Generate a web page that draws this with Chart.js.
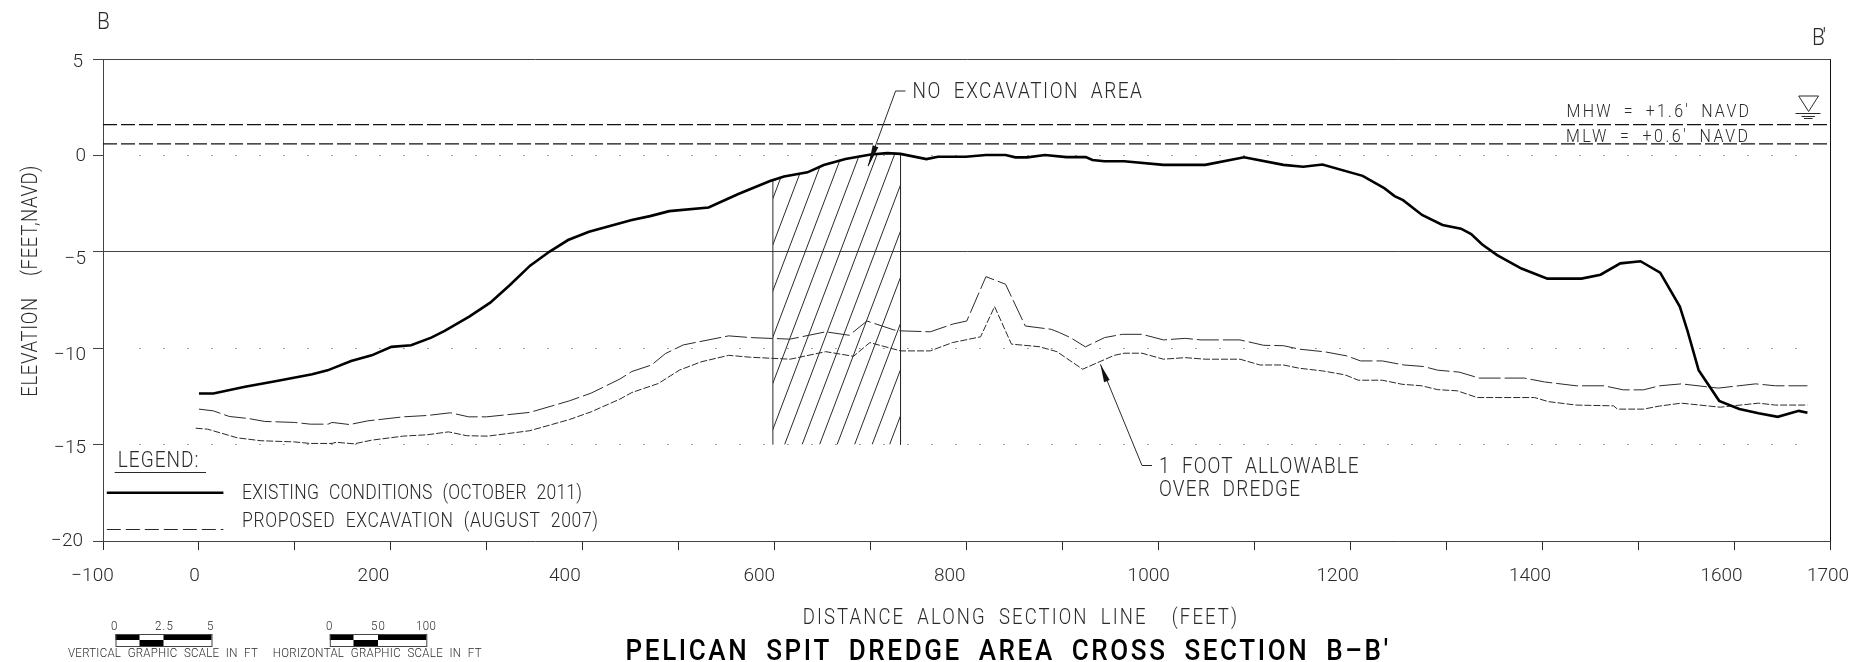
<!DOCTYPE html>
<html><head><meta charset="utf-8">
<style>html,body{margin:0;padding:0;background:#fff;overflow:hidden}canvas{display:block}</style>
<script src="https://cdn.jsdelivr.net/npm/chart.js@4/dist/chart.umd.min.js"></script>
</head><body>
<canvas id="c" width="1861" height="662"></canvas>
<script>
const existingX=[0,15,48,81,118,134,158.5,180,200.5,221,242,256,281.6,303.5,324,345,365,384.6,406.4,438.6,451,470,490,531,562,595,609.6,634,651,673.6,700,717,731,758,770,799,820,840.4,850.7,863,881.5,904,924,931,943.5,964,1005,1048.5,1089,1130,1150.5,1170.6,1212.5,1235,1245.8,1254.6,1274.4,1295.7,1315,1325.6,1336.8,1352.6,1378,1405,1440.5,1460.4,1481,1502,1522.5,1543,1551,1562.6,1584,1605,1625,1645,1667,1676];
const existingY=[-12.35,-12.35,-12,-11.7,-11.35,-11.15,-10.66,-10.37,-9.93,-9.85,-9.45,-9.1,-8.36,-7.64,-6.72,-5.72,-5,-4.39,-3.96,-3.52,-3.35,-3.15,-2.89,-2.7,-2,-1.33,-1.09,-0.88,-0.5,-0.19,0.05,0.12,0.08,-0.19,-0.07,-0.07,0.02,0.02,-0.1,-0.1,0.02,-0.09,-0.09,-0.24,-0.3,-0.3,-0.49,-0.49,-0.1,-0.49,-0.59,-0.47,-1.06,-1.7,-2.11,-2.32,-3.09,-3.61,-3.8,-4.08,-4.61,-5.17,-5.87,-6.39,-6.39,-6.19,-5.6,-5.49,-6.08,-7.84,-9.1,-11.14,-12.73,-13.15,-13.37,-13.56,-13.25,-13.35];
const proposedX=[0,15,31.5,52,68.6,99.6,116,134.6,138.6,157,175.8,212.8,237.8,262,281,299.6,344.7,386,408.6,438.6,451,471.6,486,504.6,552,574.7,616,653,677.6,696,724,731,762,786,800,820,840.4,861,888,896.6,908,923.6,943.6,962,982.6,1005,1027.6,1044,1084.7,1109.4,1130,1146.6,1173.4,1196,1210.4,1233,1255.5,1276,1290.7,1313,1334,1381,1402,1435,1464,1484,1505,1522,1544.6,1583,1622,1642.5,1676];
const proposedY=[-13.16,-13.25,-13.54,-13.65,-13.8,-13.85,-13.94,-13.94,-13.85,-13.96,-13.77,-13.56,-13.49,-13.35,-13.56,-13.56,-13.33,-12.73,-12.33,-11.6,-11.21,-10.87,-10.28,-9.83,-9.36,-9.45,-9.53,-9.15,-9.33,-8.59,-9.05,-9.1,-9.15,-8.74,-8.59,-6.29,-6.68,-8.85,-9.02,-9.19,-9.45,-9.93,-9.45,-9.28,-9.28,-9.57,-9.49,-9.57,-9.57,-9.85,-9.87,-10.05,-10.19,-10.4,-10.66,-10.66,-10.87,-10.95,-11.14,-11.24,-11.55,-11.55,-11.75,-11.95,-11.95,-12.16,-12.16,-11.95,-11.85,-12.07,-11.85,-11.95,-11.95];
const overDredgeX=[-3.4,9,40,64.6,99.6,116,138.6,143,161.5,180,212.8,237.8,260,279,301,344.7,386,408.6,438.6,451,478.7,500.5,523,552,574.7,616,653,682,699,731,762,785,814.4,829,846.6,875.4,894,920.7,953.7,964,982.6,1005,1027.6,1048.5,1084.7,1105.4,1130,1146.6,1171,1194,1208,1233,1253.5,1274,1290.7,1311,1332,1391.6,1406,1435,1474,1478,1505,1522,1544.6,1585,1625,1642.5,1676];
const overDredgeY=[-14.15,-14.2,-14.65,-14.8,-14.86,-14.94,-14.94,-14.88,-14.96,-14.77,-14.56,-14.49,-14.34,-14.54,-14.56,-14.28,-13.7,-13.3,-12.64,-12.3,-11.83,-11.14,-10.71,-10.37,-10.47,-10.57,-10.18,-10.42,-9.71,-10.14,-10.14,-9.71,-9.41,-7.84,-9.79,-9.92,-10.18,-11.09,-10.37,-10.26,-10.26,-10.57,-10.49,-10.57,-10.57,-10.87,-10.87,-11.04,-11.18,-11.38,-11.66,-11.66,-11.87,-11.95,-12.15,-12.21,-12.56,-12.56,-12.77,-12.95,-12.99,-13.16,-13.16,-13,-12.85,-13.06,-12.85,-12.95,-12.95];
const noExcavationX=[598,598,609.6,634,651,673.6,700,717,731,731];
const noExcavationY=[-15,-1.33,-1.09,-0.88,-0.5,-0.19,0.05,0.12,0.08,-15];
const tideX=[-100,1700];
const mhwY=[1.6,1.6];
const mlwY=[0.6,0.6];
const xTickLabels=[-100,0,200,400,600,800,1000,1200,1400,1600,1700];
const yTickLabels=[5,0,-5,-10,-15,-20];
const dottedLevels=[0,-10,-15];

const INK='#2a2a2a', FONT='Roboto', STRETCH=1.16;
const xLabelShift={'-100':-10.5,'0':-4.5,'200':-17.5,'400':-18,'600':-15.5,'800':-17,'1000':-10,'1200':-13,'1400':-12.5,'1600':-13,'1700':-2.5};
const yLabelShift={'5':[-3,3.7],'0':[0,0.7],'-5':[0,7.6],'-10':[0,6.7],'-15':[0,4],'-20':[-3,0.7]};
const dotPattern=[];for(let i=0;i<69;i++)dotPattern.push(1,23);dotPattern.push(1,2000);

const zip=(xs,ys)=>xs.map((x,i)=>({x,y:ys[i]}));
const line=(ctx,pts,w=1,col=INK,dash=[])=>{ctx.save();ctx.beginPath();ctx.setLineDash(dash);ctx.lineWidth=w;ctx.strokeStyle=col;
  pts.forEach((p,i)=>i?ctx.lineTo(p[0],p[1]):ctx.moveTo(p[0],p[1]));ctx.stroke();ctx.restore();};
// text stretched between two x positions, tall and wide-spaced like the CAD lettering
const text=(ctx,s,x0,x1,y,size,weight='300',col=INK)=>{ctx.save();ctx.font=`${weight} ${size}px ${FONT}`;ctx.fillStyle=col;ctx.textBaseline='middle';ctx.textAlign='left';
  ctx.letterSpacing='0px';ctx.wordSpacing=(size*0.3)+'px';const w=ctx.measureText(s).width;const ls=(x1-x0-w)/Math.max(1,s.length-1);ctx.letterSpacing=ls+'px';
  ctx.translate(x0,y);ctx.scale(1,STRETCH);ctx.fillText(s,0,0);ctx.restore();};
const arrow=(ctx,tx,ty,bx,by,len,half)=>{const d=Math.hypot(bx-tx,by-ty),ux=(bx-tx)/d,uy=(by-ty)/d,cx=tx+ux*len,cy=ty+uy*len;
  ctx.save();ctx.fillStyle='#111';ctx.beginPath();ctx.moveTo(tx,ty);ctx.lineTo(cx-uy*half,cy+ux*half);ctx.lineTo(cx+uy*half,cy-ux*half);ctx.closePath();ctx.fill();ctx.restore();};
const bar=(ctx,x0,x1,x2,x3,y0,y1,y2)=>{ctx.save();ctx.fillStyle='#000';
  ctx.fillRect(x0,y0,x1-x0,y1-y0);ctx.fillRect(x2,y0,x3-x2,y1-y0);ctx.fillRect(x1,y1,x2-x1,y2-y1);
  ctx.strokeStyle='#444';ctx.lineWidth=1;ctx.strokeRect(x0+.5,y0+.5,x3-x0,y2-y0);ctx.restore();};

const tune={id:'tune',beforeDraw(chart){
  chart.scales.x.getLabelItems().forEach(it=>{const d=xLabelShift[it.label.replace('\u2212','-')];if(d!==undefined)it.options.translation[0]+=d;});
  chart.scales.y.getLabelItems().forEach(it=>{const d=yLabelShift[it.label.replace('\u2212','-')];if(d){it.options.translation[0]+=d[0];it.options.translation[1]+=d[1];}});
}};
const hatch={id:'hatch',beforeDatasetsDraw(chart){
  const ctx=chart.ctx,pts=chart.getDatasetMeta(3).data,ys=chart.scales.y,xs=chart.scales.x;
  ctx.save();ctx.beginPath();pts.forEach((p,i)=>i?ctx.lineTo(p.x,p.y):ctx.moveTo(p.x,p.y));ctx.closePath();ctx.clip();
  const base=ys.getPixelForValue(-15),top=ys.getPixelForValue(0.2),step=17.5,rise=0.379;
  ctx.strokeStyle=INK;ctx.lineWidth=1;ctx.beginPath();
  for(let x=767.1-step*6;x<xs.getPixelForValue(731)+step;x+=step){ctx.moveTo(x,base);ctx.lineTo(x+(base-top)*rise,top);}
  ctx.stroke();ctx.restore();
}};
const notes={id:'notes',afterDraw(chart){
  const c=chart.ctx;
  text(c,'B',97,111,23,21);
  text(c,"B'",1812,1826,39,21);
  // no-excavation leader
  text(c,'NO EXCAVATION AREA',912.6,1142,92.5,19);
  line(c,[[905.5,91],[895.6,91],[868,166]]);
  arrow(c,868,167,876,145,22,3);
  // tide labels and symbol
  text(c,"MHW = +1.6' NAVD",1566.6,1749,112,16);
  text(c,"MLW = +0.6' NAVD",1566,1748,137,16);
  line(c,[[1798.7,96],[1818.5,96],[1808.6,111.5],[1798.7,96]]);
  line(c,[[1795.5,113.5],[1820.5,113.5]]);
  line(c,[[1801.5,116.5],[1815,116.5]]);
  line(c,[[1804,118.5],[1812.6,118.5]]);
  // over dredge leader
  text(c,'1 FOOT ALLOWABLE',1159,1358.6,467.5,19);
  text(c,'OVER DREDGE',1159,1300,490,19);
  line(c,[[1152,465.5],[1142,465.5],[1100.4,364.3]]);
  arrow(c,1100.4,364.3,1108,384,18,3);
  // legend
  text(c,'LEGEND:',117.8,198.5,461.5,19);
  line(c,[[114.7,472.5],[206,472.5]]);
  line(c,[[106.8,492.7],[223.4,492.7]],2.6,'#000');
  text(c,'EXISTING CONDITIONS (OCTOBER 2011)',242,582,493.5,17.5);
  line(c,[[106.8,529.5],[223.4,529.5]],1,INK,[14,5]);
  text(c,'PROPOSED EXCAVATION (AUGUST 2007)',242,598,522,17.5);
  // axis titles
  text(c,'DISTANCE ALONG SECTION LINE  (FEET)',802.7,1237,618.5,18.5);
  c.save();c.translate(32,396.7);c.rotate(-Math.PI/2);text(c,'ELEVATION  (FEET,NAVD)',0,231,0,18.5);c.restore();
  text(c,"PELICAN SPIT DREDGE AREA CROSS SECTION B\u2013B'",625.6,1388,652,26,'500','#000');
  // graphic scales
  bar(c,115.5,139.5,163.5,211.5,634,640,646);
  text(c,'0',111,118,627,11.5);text(c,'2.5',155,173,627,11.5);text(c,'5',207,215,627,11.5);
  text(c,'VERTICAL GRAPHIC SCALE IN FT',68,257.8,654,11.5);
  bar(c,329.8,353.5,378,426.3,634,640,646);
  text(c,'0',326,333,627,11.5);text(c,'50',371,385,627,11.5);text(c,'100',416,436,627,11.5);
  text(c,'HORIZONTAL GRAPHIC SCALE IN FT',272.8,481.6,654,11.5);
}};

new Chart(document.getElementById('c'),{
  type:'line',
  data:{datasets:[
    {label:'Existing conditions (October 2011)',data:zip(existingX,existingY),borderColor:'#000',borderWidth:2.6,order:1},
    {label:'Proposed excavation (August 2007)',data:zip(proposedX,proposedY),borderColor:INK,borderWidth:1,borderDash:[22,4],order:2},
    {label:'1 foot allowable over dredge',data:zip(overDredgeX,overDredgeY),borderColor:INK,borderWidth:1,borderDash:[7,2],order:3},
    {label:'No excavation area',data:zip(noExcavationX,noExcavationY),borderColor:INK,borderWidth:1,order:4},
    {label:'MHW',data:zip(tideX,mhwY),borderColor:'#111',borderWidth:1.3,borderDash:[14,4],order:5},
    {label:'MLW',data:zip(tideX,mlwY),borderColor:'#111',borderWidth:1.3,borderDash:[14,4],order:6}
  ]},
  options:{
    responsive:false,animation:false,
    layout:{padding:{left:0,right:30.5,top:59,bottom:0}},
    elements:{point:{radius:0},line:{tension:0,fill:false,borderCapStyle:'butt'}},
    plugins:{legend:{display:false},title:{display:false},tooltip:{enabled:false}},
    scales:{
      x:{type:'linear',min:-100,max:1700,
        afterBuildTicks:s=>{s.ticks=[];for(let v=-100;v<=1700;v+=100)s.ticks.push({value:v});},
        afterFit:s=>{s.height=121;s.paddingLeft=0;s.paddingRight=0;},
        border:{display:false},
        grid:{drawOnChartArea:true,color:c=>(c.tick&&(c.tick.value===1700))?'#111':'rgba(0,0,0,0)',tickColor:INK,tickLength:9,lineWidth:1},
        ticks:{autoSkip:false,maxRotation:0,minRotation:0,padding:15,color:INK,font:{family:FONT,size:19,weight:'300'},
          callback:v=>xTickLabels.includes(v)?String(v).replace('-','\u2212'):''}},
      y:{type:'linear',min:-20,max:5,
        afterBuildTicks:s=>{s.ticks=yTickLabels.map(v=>({value:v}));},
        afterFit:s=>{s.width=103;s.paddingTop=0;s.paddingBottom=0;},
        border:{display:true,color:'#444',width:1,
          dash:c=>(c.tick&&dottedLevels.includes(c.tick.value))?dotPattern:[],
          dashOffset:c=>(c.tick&&dottedLevels.includes(c.tick.value))?-35.4:0},
        grid:{color:c=>'#444',tickColor:'#444',tickLength:10,lineWidth:1},
        ticks:{padding:7,color:INK,font:{family:FONT,size:19,weight:'300'},
          callback:v=>String(v).replace('-','\u2212')}}
    }
  },
  plugins:[tune,hatch,notes]
});
</script>
</body></html>
